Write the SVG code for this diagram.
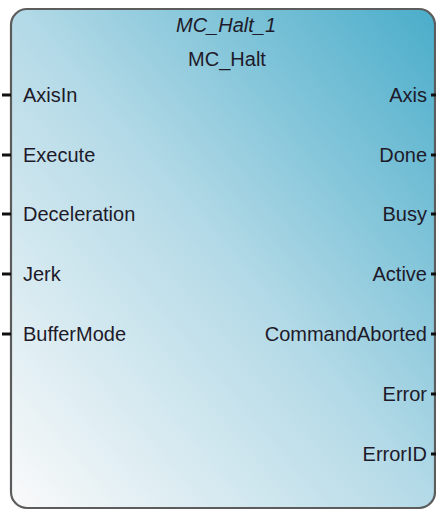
<svg xmlns="http://www.w3.org/2000/svg" width="436" height="510" viewBox="0 0 436 510">
<defs>
<linearGradient id="bg" x1="0" y1="1" x2="1" y2="0">
<stop offset="0" stop-color="#fafafa"/>
<stop offset="0.5" stop-color="#b4dae7"/>
<stop offset="1" stop-color="#4aadca"/>
</linearGradient>
<style>
.t{font-family:"Liberation Sans",Arial,sans-serif;font-size:20px;fill:#1e1a2a}
.r{text-anchor:end}
.c{text-anchor:middle}
.pin{stroke:#111;stroke-width:3}
</style>
</defs>
<rect width="436" height="510" fill="#ffffff"/>
<g id="block">
<rect x="11" y="9" width="424" height="499" rx="16" ry="16" fill="url(#bg)" stroke="#5c5c5c" stroke-width="2.2"/>
<text class="t c" x="226" y="32" font-style="italic">MC_Halt_1</text>
<text class="t c" x="227" y="66">MC_Halt</text>
<text class="t" x="23" y="102">AxisIn</text>
<text class="t" x="23" y="162">Execute</text>
<text class="t" x="23" y="221">Deceleration</text>
<text class="t" x="23" y="281">Jerk</text>
<text class="t" x="23" y="341">BufferMode</text>
<text class="t r" x="427" y="102">Axis</text>
<text class="t r" x="427" y="162">Done</text>
<text class="t r" x="427" y="221">Busy</text>
<text class="t r" x="427" y="281">Active</text>
<text class="t r" x="427" y="341">CommandAborted</text>
<text class="t r" x="427" y="401">Error</text>
<text class="t r" x="427" y="461">ErrorID</text>
</g>
<g id="pins">
<line class="pin" x1="2" y1="95" x2="11" y2="95"/>
<line class="pin" x1="2" y1="155" x2="11" y2="155"/>
<line class="pin" x1="2" y1="214" x2="11" y2="214"/>
<line class="pin" x1="2" y1="274" x2="11" y2="274"/>
<line class="pin" x1="2" y1="334" x2="11" y2="334"/>
<line class="pin" x1="431" y1="95" x2="436" y2="95"/>
<line class="pin" x1="431" y1="155" x2="436" y2="155"/>
<line class="pin" x1="431" y1="214" x2="436" y2="214"/>
<line class="pin" x1="431" y1="274" x2="436" y2="274"/>
<line class="pin" x1="431" y1="334" x2="436" y2="334"/>
<line class="pin" x1="431" y1="394" x2="436" y2="394"/>
<line class="pin" x1="431" y1="454" x2="436" y2="454"/>
</g>
</svg>
